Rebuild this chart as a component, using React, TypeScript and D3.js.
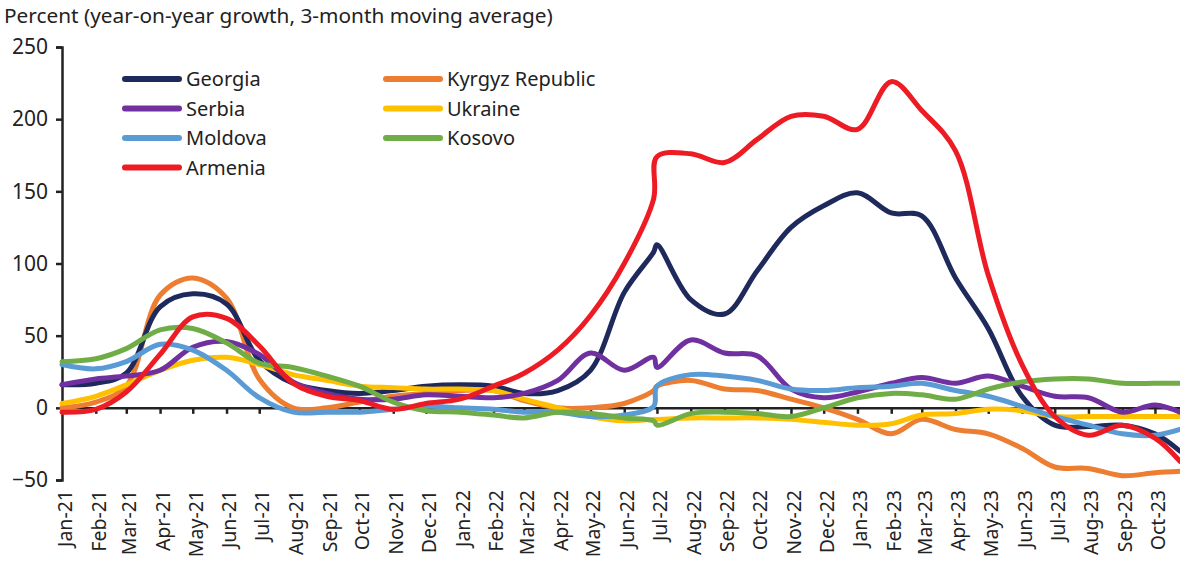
import React, { useEffect, useRef } from 'react';
import * as d3 from 'd3';

// dates of the points (monthly, plus the July-22 break and the last observation)
const dates = [
  '2021-01-01', '2021-02-01', '2021-03-01', '2021-04-01', '2021-05-01', '2021-06-01',
  '2021-07-01', '2021-08-01', '2021-09-01', '2021-10-01', '2021-11-01', '2021-12-01',
  '2022-01-01', '2022-02-01', '2022-03-01', '2022-04-01', '2022-05-01', '2022-06-01',
  '2022-06-28',
  '2022-07-01', '2022-08-01', '2022-09-01', '2022-10-01', '2022-11-01', '2022-12-01',
  '2023-01-01', '2023-02-01', '2023-03-01', '2023-04-01', '2023-05-01', '2023-06-01',
  '2023-07-01', '2023-08-01', '2023-09-01', '2023-10-01',
  '2023-10-24',
];

const georgia = [16, 17, 24, 70, 79, 72, 33, 17, 12, 10, 12, 15, 16, 15, 10, 12, 26, 80, 108, 113, 75, 65, 95, 125, 140, 149, 135, 133, 90, 55, 8, -12, -13, -12, -18, -30];
const kyrgyz = [0, 4, 15, 78, 90, 76, 20, 0, 0, 4, 8, 10, 12, 12, 5, 0, 0, 3, 12, 15, 19, 13, 12, 6, 0, -8, -18, -8, -15, -18, -28, -41, -42, -47, -45, -44];
const serbia = [16, 20, 22, 26, 42, 46, 37, 18, 10, 6, 6, 9, 8, 7, 10, 19, 38, 26, 35, 28, 47, 38, 36, 13, 7, 11, 17, 21, 17, 22, 15, 8, 7, -3, 2, -3];
const ukraine = [3, 8, 16, 26, 33, 35, 30, 23, 19, 15, 14, 13, 13, 12, 6, 0, -6, -9, -8, -8, -7, -7, -7, -8, -10, -12, -11, -5, -4, -1, -2, -6, -6, -6, -6, -6];
const moldova = [30, 27, 32, 44, 40, 26, 7, -3, -3, -3, -1, 1, 0, -1, -3, -3, -6, -5, 1, 15, 23, 22, 19, 13, 12, 14, 15, 17, 12, 8, 1, -6, -12, -18, -19, -15];
const kosovo = [32, 34, 41, 54, 55, 45, 31, 28, 22, 15, 4, -2, -3, -5, -7, -3, -4, -7, -9, -12, -4, -3, -4, -6, 0, 7, 10, 9, 6, 13, 18, 20, 20, 17, 17, 17];
const armenia = [-3, -1, 11, 37, 63, 62, 43, 17, 8, 5, -1, 3, 6, 15, 24, 40, 64, 100, 145, 174, 176, 170, 186, 202, 202, 193, 226, 206, 178, 92, 30, -6, -19, -12, -21, -37];

const yTicks = [250, 200, 150, 100, 50, 0, -50];
const tickMonths = dates.filter((d) => d.endsWith('-01'));

const series = [
  { name: 'Georgia', values: georgia, color: '#1f2a5c' },
  { name: 'Kyrgyz Republic', values: kyrgyz, color: '#ed7d31' },
  { name: 'Serbia', values: serbia, color: '#7030a0' },
  { name: 'Ukraine', values: ukraine, color: '#ffc000' },
  { name: 'Moldova', values: moldova, color: '#5b9bd5' },
  { name: 'Kosovo', values: kosovo, color: '#70ad47' },
  { name: 'Armenia', values: armenia, color: '#ed1c24' },
];
// red ends up on top
const drawOrder = ['Kyrgyz Republic', 'Georgia', 'Ukraine', 'Serbia', 'Moldova', 'Kosovo', 'Armenia'];

export default function App() {
  const ref = useRef<SVGSVGElement>(null);

  useEffect(() => {
    draw();
  }, []);

  function draw() {
    const width = 1180;
    const height = 564;
    const svg = d3.select(ref.current);
    svg.selectAll('*').remove();
    svg.attr('width', width).attr('height', height);

    const font = "'Noto Sans', sans-serif";
    const parse = d3.timeParse('%Y-%m-%d');
    const xDates = dates.map((d) => parse(d) as Date);

    const xScale = d3
      .scaleTime()
      .domain([xDates[0], xDates[xDates.length - 1]])
      .range([62, 1180]);
    const yScale = d3.scaleLinear().domain([-50, 250]).range([480, 47]);

    // title
    svg.append('text')
      .text('Percent (year-on-year growth, 3-month moving average)')
      .attr('x', 4)
      .attr('y', 23)
      .attr('font-family', font)
      .attr('font-size', 20.8)
      .attr('fill', '#222');

    // y axis
    const yAxis = d3.axisLeft(yScale).tickValues(yTicks).tickSize(6).tickPadding(8).tickFormat((d) => (d < 0 ? '\u2212' + Math.abs(+d) : String(d)));
    const gy = svg.append('g').attr('transform', 'translate(62,0)').call(yAxis);
    gy.select('.domain').attr('stroke', '#222').attr('stroke-width', 2.5);
    gy.selectAll('.tick line').attr('stroke', '#222').attr('stroke-width', 2.5);
    gy.selectAll('.tick text').attr('font-family', font).attr('font-size', 21).attr('fill', '#222');

    // x axis on the zero line
    const xAxis = d3
      .axisBottom(xScale)
      .tickValues(tickMonths.map((d) => parse(d) as Date))
      .tickSize(6)
      .tickSizeOuter(0)
      .tickFormat(() => '');
    const gx = svg.append('g').attr('transform', `translate(0,${yScale(0)})`).call(xAxis);
    gx.select('.domain').attr('stroke', '#222').attr('stroke-width', 2.5);
    gx.selectAll('.tick line').attr('stroke', '#222').attr('stroke-width', 2.5);

    // month labels at the bottom
    svg.append('g')
      .selectAll('text')
      .data(tickMonths)
      .enter()
      .append('text')
      .text((d) => d3.timeFormat('%b-%y')(parse(d) as Date))
      .attr('transform', (d) => `translate(${xScale(parse(d) as Date) + 3},490) rotate(-90)`)
      .attr('text-anchor', 'end')
      .attr('dy', '0.35em')
      .attr('font-family', font)
      .attr('font-size', 19.5)
      .attr('fill', '#222');

    // lines
    const line = d3
      .line<number>()
      .x((_, i) => xScale(xDates[i]))
      .y((d) => yScale(d))
      .curve(d3.curveCatmullRom.alpha(0.5));
    const plot = svg.append('g');
    drawOrder.forEach((name) => {
      const s = series.find((d) => d.name === name)!;
      plot.append('path')
        .datum(s.values)
        .attr('d', line)
        .attr('fill', 'none')
        .attr('stroke', s.color)
        .attr('stroke-width', 5)
        .attr('stroke-linejoin', 'round')
        .attr('stroke-linecap', 'round');
    });

    // legend
    const legendCols = [
      { x: 125, names: ['Georgia', 'Serbia', 'Moldova', 'Armenia'] },
      { x: 386, names: ['Kyrgyz Republic', 'Ukraine', 'Kosovo'] },
    ];
    const legend = svg.append('g');
    legendCols.forEach((col) => {
      col.names.forEach((name, i) => {
        const s = series.find((d) => d.name === name)!;
        const y = 79 + i * 29.5;
        legend.append('line')
          .attr('x1', col.x)
          .attr('x2', col.x + 54)
          .attr('y1', y)
          .attr('y2', y)
          .attr('stroke', s.color)
          .attr('stroke-width', 6)
          .attr('stroke-linecap', 'round');
        legend.append('text')
          .text(name)
          .attr('x', col.x + 61)
          .attr('y', y)
          .attr('dy', '0.36em')
          .attr('font-family', font)
          .attr('font-size', 20)
          .attr('fill', '#222');
      });
    });
  }

  return <svg ref={ref} style={{ position: 'absolute', left: 0, top: 0 }}></svg>;
}
